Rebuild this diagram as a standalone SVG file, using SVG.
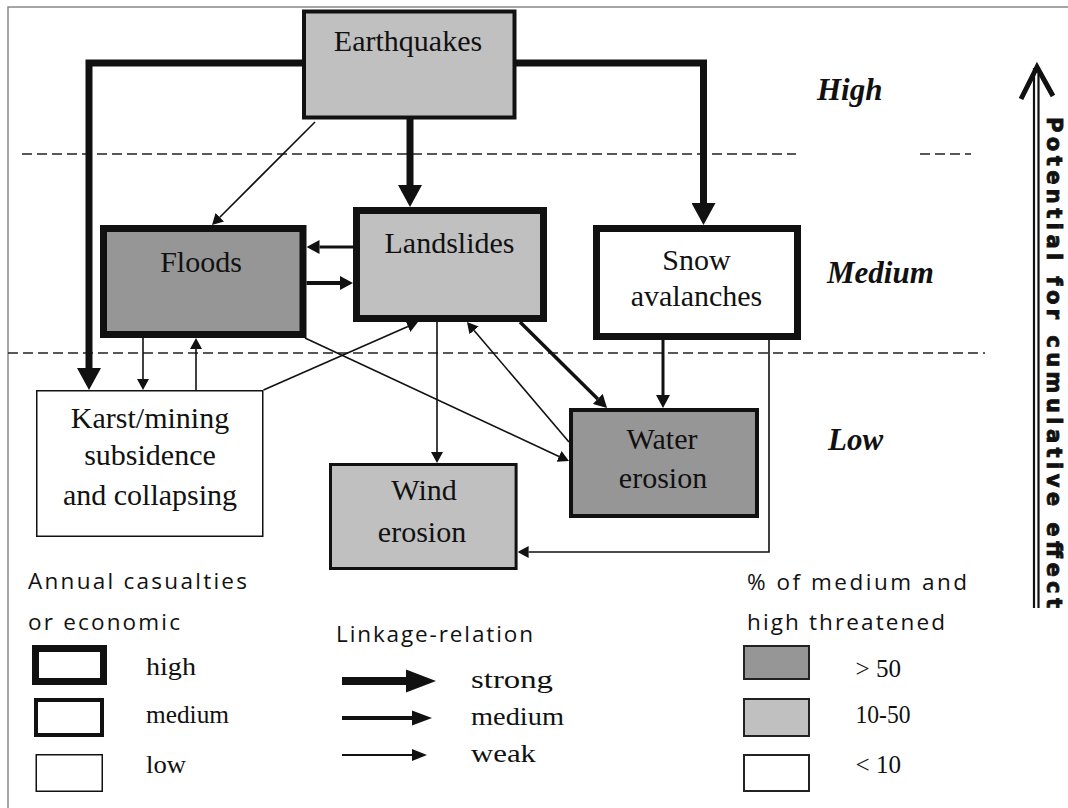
<svg xmlns="http://www.w3.org/2000/svg" width="1068" height="808" viewBox="0 0 1068 808">
<style>
.serif{font-family:"Liberation Serif","Times New Roman",serif;fill:#111}
.node{font-size:30px;text-anchor:middle}
.lvl{font-size:31px;font-weight:bold;font-style:italic}
.leg{font-size:25px}
.sans{font-family:"Open Sans","Liberation Sans",sans-serif;font-size:22.5px;fill:#111}
.c{fill:none;stroke:#111;stroke-linejoin:miter}
.strong{stroke-width:7;marker-end:url(#mS)}
.med{stroke-width:3.5;marker-end:url(#mM)}
.weak{stroke-width:1.6;marker-end:url(#mW)}
.dash{stroke:#222;stroke-width:1.6;stroke-dasharray:10 5;fill:none}
.box{stroke:#111}
</style>
<defs>
<marker id="mS" viewBox="0 -12 22 24" refX="0" refY="0" markerWidth="22" markerHeight="24" markerUnits="userSpaceOnUse" orient="auto"><path d="M0,-12 L22,0 L0,12 z" fill="#111"/></marker>
<marker id="mM" viewBox="0 -7 13 14" refX="0" refY="0" markerWidth="13" markerHeight="14" markerUnits="userSpaceOnUse" orient="auto"><path d="M0,-7 L13,0 L0,7 z" fill="#111"/></marker>
<marker id="mW" viewBox="0 -6 11 12" refX="0" refY="0" markerWidth="11" markerHeight="12" markerUnits="userSpaceOnUse" orient="auto"><path d="M0,-6 L11,0 L0,6 z" fill="#111"/></marker>
</defs>
<rect width="1068" height="808" fill="#fff"/>
<path d="M8,808 V7 H1068" fill="none" stroke="#888" stroke-width="1.5"/>
<g id="levels">
<path class="dash" d="M22,154 H796 M920,154 H971"/>
<path class="dash" d="M8,353 H985"/>
<text class="serif lvl" x="817" y="100">High</text>
<text class="serif lvl" x="827" y="283">Medium</text>
<text class="serif lvl" x="828" y="450">Low</text>
</g>
<g id="connectors">
<path class="c strong" d="M302,63 H89 V368"/>
<path class="c strong" d="M516,63 H703.5 V203"/>
<path class="c strong" d="M410,119 V185"/>
<path class="c med" style="stroke-width:3" d="M353,247 H319.5"/>
<path class="c med" style="stroke-width:4" d="M306.5,283 H340"/>
<path class="c med" d="M520,322 L597.8,398.9"/>
<path class="c med" style="stroke-width:3" d="M663,340 V395"/>
<path class="c weak" d="M315,122 L219.8,217.2"/>
<path class="c weak" d="M143,338 V379"/>
<path class="c weak" d="M196,390 V349"/>
<path class="c weak" d="M263.5,390 L407.9,326.4"/>
<path class="c weak" d="M305,338 L559,456.4"/>
<path class="c weak" d="M437,322 V452"/>
<path class="c weak" d="M569,442 L474.1,330.4"/>
<path class="c weak" d="M769,340 V552 H528.6"/>
</g>
<g id="earthquakes">
<rect class="box" x="304" y="11.5" width="210.5" height="106" fill="#c0c0c0" stroke-width="4"/>
<text class="serif node" x="408" y="51">Earthquakes</text>
</g>
<g id="floods">
<rect class="box" x="103.5" y="228.5" width="199.5" height="106" fill="#969696" stroke-width="7"/>
<text class="serif node" x="201" y="272">Floods</text>
</g>
<g id="landslides">
<rect class="box" x="356.5" y="210.5" width="187" height="108" fill="#c0c0c0" stroke-width="7"/>
<text class="serif node" x="449.5" y="253">Landslides</text>
</g>
<g id="snow">
<rect class="box" x="596.5" y="228.5" width="201" height="108" fill="#fff" stroke-width="7"/>
<text class="serif node" x="696.5" y="270">Snow</text>
<text class="serif node" x="696.5" y="306">avalanches</text>
</g>
<g id="karst">
<rect class="box" x="36.75" y="390.75" width="226" height="145.5" fill="#fff" stroke-width="1.5"/>
<text class="serif node" x="150" y="428">Karst/mining</text>
<text class="serif node" x="150" y="465">subsidence</text>
<text class="serif node" x="150" y="505">and collapsing</text>
</g>
<g id="wind">
<rect class="box" x="330.5" y="464.5" width="185.6" height="104" fill="#c0c0c0" stroke-width="3"/>
<text class="serif node" x="424" y="500">Wind</text>
<text class="serif node" x="422" y="542">erosion</text>
</g>
<g id="water">
<rect class="box" x="571" y="410" width="186" height="106" fill="#969696" stroke-width="4"/>
<text class="serif node" x="662" y="449">Water</text>
<text class="serif node" x="663" y="488">erosion</text>
</g>
<g id="axis">
<path d="M1034,608 V68 M1038.5,608 V68" stroke="#111" stroke-width="2.2" fill="none"/>
<path d="M1021,99 L1037,67 L1053,96" stroke="#111" stroke-width="5" fill="none" stroke-linejoin="miter"/>
<text transform="translate(1047,117) rotate(90)" font-family="'DejaVu Sans','Liberation Sans',sans-serif" font-weight="bold" font-size="21" fill="#111" stroke="#111" stroke-width="0.8" textLength="491" lengthAdjust="spacing">Potential for cumulative effect</text>
</g>
<g id="legend-casualties">
<text class="sans" x="28" y="589" textLength="219" lengthAdjust="spacing">Annual casualties</text>
<text class="sans" x="28" y="630" textLength="152" lengthAdjust="spacing">or economic</text>
<rect x="35.5" y="648.5" width="68" height="33" fill="#fff" stroke="#111" stroke-width="7"/>
<rect x="36" y="700" width="66" height="35" fill="#fff" stroke="#111" stroke-width="4"/>
<rect x="36.25" y="754.75" width="66" height="36.5" fill="#fff" stroke="#111" stroke-width="1.5"/>
<text class="serif leg" x="146" y="675" textLength="50" lengthAdjust="spacingAndGlyphs">high</text>
<text class="serif leg" x="146" y="723" textLength="83" lengthAdjust="spacingAndGlyphs">medium</text>
<text class="serif leg" x="146" y="773" textLength="40" lengthAdjust="spacingAndGlyphs">low</text>
</g>
<g id="legend-linkage">
<text class="sans" x="336" y="642" textLength="197" lengthAdjust="spacing">Linkage-relation</text>
<path d="M342,681 H408" stroke="#111" stroke-width="8"/>
<path d="M406,669.5 L436,681 L406,692.5 z" fill="#111"/>
<path d="M342,718 H414" stroke="#111" stroke-width="4"/>
<path d="M412,710.5 L432,718 L412,725.5 z" fill="#111"/>
<path d="M342,755 H414" stroke="#111" stroke-width="2"/>
<path d="M412,749 L427,755 L412,761 z" fill="#111"/>
<text class="serif leg" x="471" y="688" textLength="82" lengthAdjust="spacingAndGlyphs">strong</text>
<text class="serif leg" x="471" y="725" textLength="93" lengthAdjust="spacingAndGlyphs">medium</text>
<text class="serif leg" x="471" y="762" textLength="65" lengthAdjust="spacingAndGlyphs">weak</text>
</g>
<g id="legend-threatened">
<text class="sans" x="747" y="590" textLength="220" lengthAdjust="spacing">% of medium and</text>
<text class="sans" x="747" y="630" textLength="198" lengthAdjust="spacing">high threatened</text>
<rect x="744" y="646" width="65" height="33" fill="#969696" stroke="#222" stroke-width="2"/>
<rect x="744" y="699" width="65" height="37" fill="#c0c0c0" stroke="#222" stroke-width="2"/>
<rect x="744" y="755" width="65" height="36" fill="#fff" stroke="#222" stroke-width="2"/>
<text class="serif leg" x="855.5" y="677" textLength="45.5" lengthAdjust="spacingAndGlyphs">&gt; 50</text>
<text class="serif leg" x="855.5" y="723" textLength="55" lengthAdjust="spacingAndGlyphs">10-50</text>
<text class="serif leg" x="855.5" y="773" textLength="45.5" lengthAdjust="spacingAndGlyphs">&lt; 10</text>
</g>
</svg>
